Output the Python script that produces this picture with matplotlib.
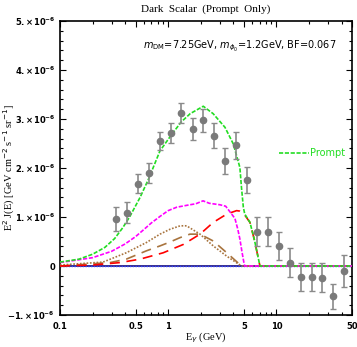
import numpy as np
import matplotlib.pyplot as plt
from matplotlib.ticker import FixedLocator, MultipleLocator, LogLocator, NullFormatter, FuncFormatter

# data points (E in GeV, E^2 J(E) in units of 1e-6)
E_data = [0.329, 0.416, 0.526, 0.665, 0.840, 1.055, 1.32, 1.68, 2.11, 2.65, 3.35, 4.21,
          5.32, 6.66, 8.42, 10.57, 13.27, 16.77, 21.2, 26.6, 33.6, 41.9]
J_data = [0.96, 1.09, 1.68, 1.90, 2.55, 2.71, 3.12, 2.80, 2.97, 2.66, 2.14, 2.46,
          1.76, 0.70, 0.70, 0.41, 0.07, -0.22, -0.22, -0.24, -0.62, -0.10]
J_err = [0.25, 0.22, 0.20, 0.20, 0.18, 0.21, 0.20, 0.23, 0.24, 0.25, 0.26, 0.27,
         0.27, 0.29, 0.29, 0.29, 0.30, 0.28, 0.28, 0.30, 0.26, 0.32]

# model curves
E_green = [0.1, 0.15, 0.2, 0.26, 0.32, 0.38, 0.44, 0.55, 0.66, 0.84, 1.05, 1.32, 1.6, 2.11,
           2.6, 3.35, 4.0, 4.6, 4.76, 4.95, 5.1, 5.7, 6.3, 7.05, 50]
J_green = [0.08, 0.14, 0.24, 0.38, 0.56, 0.78, 1.0, 1.4, 1.78, 2.35, 2.65, 2.94, 3.11, 3.26,
           3.11, 2.83, 2.49, 2.01, 1.6, 1.2, 1.06, 0.89, 0.51, 0.0, 0.0]

E_mag = [0.1, 0.2, 0.3, 0.4, 0.5, 0.6, 0.7, 0.85, 1.0, 1.2, 1.5, 1.8, 2.1, 2.4, 3.0, 3.4,
         3.8, 4.14, 4.4, 4.6, 4.8, 5.0, 5.1, 50]
J_mag = [0.07, 0.17, 0.30, 0.45, 0.60, 0.75, 0.88, 1.02, 1.13, 1.20, 1.24, 1.27, 1.33, 1.28,
         1.25, 1.22, 1.08, 0.97, 0.75, 0.55, 0.30, 0.08, 0.0, 0.0]

E_red = [0.1, 0.2, 0.36, 0.55, 0.9, 1.38, 1.97, 2.61, 3.48, 4.29, 4.6, 4.9, 5.1, 5.7, 6.3,
         7.05, 50]
J_red = [0.0, 0.02, 0.07, 0.14, 0.27, 0.44, 0.65, 0.89, 1.06, 1.13, 1.12, 1.08, 1.04, 0.89,
         0.51, 0.0, 0.0]

E_bdot = [0.1, 0.25, 0.41, 0.63, 0.84, 1.04, 1.29, 1.48, 1.97, 2.61, 3.48, 4.76, 50]
J_bdot = [0.02, 0.08, 0.27, 0.48, 0.65, 0.75, 0.82, 0.82, 0.65, 0.41, 0.20, 0.0, 0.0]

E_bdash = [0.1, 0.29, 0.41, 0.63, 0.84, 1.04, 1.29, 1.59, 1.97, 2.61, 3.48, 4.76, 50]
J_bdash = [0.0, 0.07, 0.14, 0.31, 0.41, 0.49, 0.58, 0.65, 0.65, 0.51, 0.27, 0.0, 0.0]

brown = '#a8743e'

fig = plt.figure(figsize=(3.57, 3.47), dpi=100)
ax = fig.add_axes([0.168, 0.0922, 0.818, 0.8473])

ax.axhline(0, color='#2a1f80', lw=1.3, zorder=1)
ax.plot([0.1, 50], [0, 0], color='#3344ff', lw=1.0, ls=(0, (1, 1)), zorder=2)

ax.plot(E_bdot, J_bdot, color=brown, lw=1.2, ls=(0, (1, 1)), zorder=3)
ax.plot(E_bdash, J_bdash, color=brown, lw=1.2, ls=(0, (6, 4)), zorder=3)
ax.plot(E_red, J_red, color='red', lw=1.2, ls=(0, (6, 4)), zorder=3)
ax.plot(E_mag, J_mag, color='#ff00ff', lw=1.2, ls=(0, (2.5, 1)), zorder=4)
ax.plot(E_green, J_green, color='#22dd22', lw=1.2, ls=(0, (2.5, 1)), zorder=4,
        label='Prompt')

ax.errorbar(E_data, J_data, yerr=J_err, fmt='o', color='#7a7a7a', ms=4.5,
            ecolor='#8a8a8a', elinewidth=1.2, capsize=2, capthick=1, zorder=5)

ax.set_xscale('log')
ax.set_xlim(0.1, 50)
ax.set_ylim(-1, 5)

ax.xaxis.set_major_locator(FixedLocator([0.1, 0.5, 1, 5, 10, 50]))
ax.xaxis.set_major_formatter(FuncFormatter(lambda v, p: '%g' % v))
ax.xaxis.set_minor_locator(LogLocator(base=10, subs=np.arange(1, 10)))
ax.xaxis.set_minor_formatter(NullFormatter())


def yfmt(v, p):
    if abs(v) < 1e-9:
        return '0'
    return r'$\mathbf{%d.\!\times\!10^{-6}}$' % round(v)


ax.yaxis.set_major_locator(MultipleLocator(1))
ax.yaxis.set_minor_locator(MultipleLocator(0.2))
ax.yaxis.set_major_formatter(FuncFormatter(yfmt))

ax.tick_params(which='both', direction='in', top=True, right=True, labelsize=6, width=0.8)
ax.tick_params(which='major', length=4)
ax.tick_params(which='minor', length=2)
ax.tick_params(axis='x', pad=5)
for lab in ax.get_xticklabels() + ax.get_yticklabels():
    lab.set_fontweight('bold')
for s in ax.spines.values():
    s.set_linewidth(1.2)

ax.text(36, 4.49, r'$m_{\rm DM}$=7.25GeV, $m_{\phi_0}$=1.2GeV, BF=0.067',
        ha='right', va='center', fontsize=7)

leg = ax.legend(loc='center right', bbox_to_anchor=(1.005, 0.551), frameon=False,
                fontsize=7, handlelength=3.0, handletextpad=0.1, labelcolor='#22dd22')

ax.set_title('Dark  Scalar  (Prompt  Only)', family='Liberation Serif', fontsize=8, pad=7)
ax.set_xlabel(r'E$_\gamma$ (GeV)', family='Liberation Serif', fontsize=7.5)
ax.xaxis.set_label_coords(0.5, -0.052)
ax.set_ylabel(r'E$^2$ J(E) [GeV cm$^{-2}$ s$^{-1}$ sr$^{-1}$]', family='Liberation Serif',
              fontsize=7.5)
ax.yaxis.set_label_coords(-0.148, 0.5)

fig.savefig('out.png', dpi=100)
